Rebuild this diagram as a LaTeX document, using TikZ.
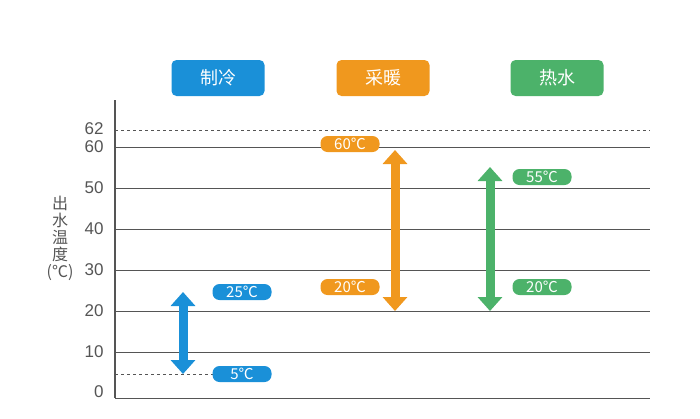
\documentclass[tikz,border=0pt]{standalone}
\usepackage{fontspec}
\newfontfamily\cjk{Noto Sans CJK SC}
\setmainfont{Liberation Sans}
\usetikzlibrary{arrows.meta}
\definecolor{cb}{HTML}{1A90D8}
\definecolor{co}{HTML}{F0981E}
\definecolor{cg}{HTML}{4CB26A}
\definecolor{gl}{HTML}{555555}
\begin{document}
\begin{tikzpicture}[x=1pt,y=-1pt,
  hdr/.style={rounded corners=5pt,minimum width=93pt,minimum height=36pt,text=white,font=\cjk\fontsize{18}{18}\selectfont},
  pill/.style={rounded corners=7pt,minimum width=59pt,minimum height=16pt,inner sep=0pt,text=white,font=\cjk\fontsize{15}{15}\selectfont},
  tick/.style={anchor=east,font=\fontsize{17}{17}\selectfont,text=gl},
  grid/.style={gl,line width=0.9pt},
  dbl/.style={line width=9pt,{Triangle[width=24pt,length=14pt]}-{Triangle[width=24pt,length=14pt]}}]
\useasboundingbox (0,0) rectangle (700,418);
% grid
\foreach \y/\v in {352/10,311/20,270/30,229/40,188/50,147/60}{
  \draw[grid] (115,\y) -- (650,\y);
  \node[tick] at (107,\y) {\v};}
\draw[gl,dashed,line width=0.8pt] (115,130) -- (650,130);
\node[tick] at (107,129) {62};
\draw[gl,dashed,line width=0.8pt] (115,374) -- (270,374);
\node[tick] at (107,392) {0};
\draw[gl,line width=1.2pt] (115,100) -- (115,398);
\draw[grid] (115,398) -- (650,398);
\node[text=gl,font=\cjk\fontsize{16}{17}\selectfont,align=center] at (60,238) {出\\水\\温\\度\\(℃)};
% headers
\node[hdr,fill=cb] (h1) at (218,78) {制冷};
\node[hdr,fill=co] (h2) at (383,78) {采暖};
\node[hdr,fill=cg] (h3) at (557,78) {热水};
% arrows
\coordinate (b1) at (183,292); \coordinate (b2) at (183,374);
\draw[dbl,cb] (b1) -- (b2);
\coordinate (o1) at (395,150); \coordinate (o2) at (395,311);
\draw[dbl,co] (o1) -- (o2);
\coordinate (g1) at (490,167); \coordinate (g2) at (490,311);
\draw[dbl,cg] (g1) -- (g2);
% pills
\node[pill,fill=cb] (p1) at (242,292) {25℃};
\node[pill,fill=cb] (p2) at (242,374) {5℃};
\node[pill,fill=co] (p3) at (350,144) {60℃};
\node[pill,fill=co] (p4) at (350,287) {20℃};
\node[pill,fill=cg] (p5) at (542,177) {55℃};
\node[pill,fill=cg] (p6) at (542,287) {20℃};
\end{tikzpicture}
\end{document}
